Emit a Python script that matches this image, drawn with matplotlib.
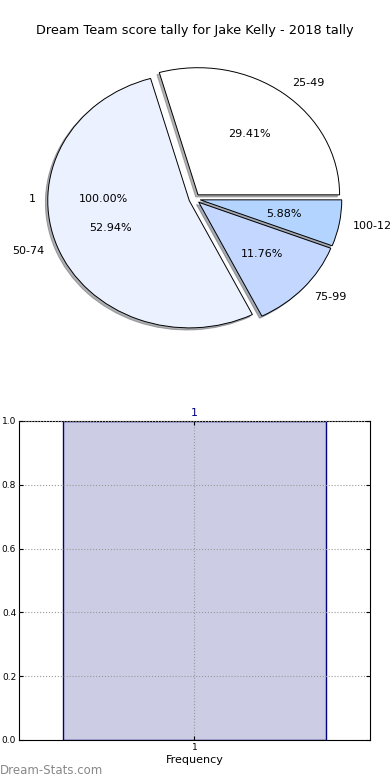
import matplotlib
matplotlib.use("Agg")
import matplotlib.pyplot as plt

# pie data: score ranges and how many weeks fell in each
score_ranges = ["25-49", "50-74", "75-99", "100-124"]
score_counts = [5, 9, 2, 1]
pie_colors = ["#ffffff", "#ebf1ff", "#c4d8ff", "#b3d4ff"]

# the hidden single-slice pie underneath
under_labels = ["1"]
under_counts = [1]

# bar data
bar_labels = ["1"]
bar_values = [1.0]

plt.rcParams["font.family"] = "DejaVu Sans"

fig = plt.figure(figsize=(3.9, 7.8), dpi=100)
fig.text(0.5, 0.961, "Dream Team score tally for Jake Kelly - 2018 tally",
         ha="center", va="center", fontsize=9.3)

# Pie chart (not kept round, like the old matplotlib output)
ax_pie = fig.add_axes([0.136, 0.582, 0.726, 0.326])
w0, t0, a0 = ax_pie.pie(under_counts, labels=under_labels, autopct="%.2f%%",
                        colors=["#ffffff"], wedgeprops=dict(linewidth=0),
                        radius=1.02, pctdistance=0.63, textprops=dict(fontsize=8))
for w in w0:
    w.set_visible(False)

wedges, texts, autotexts = ax_pie.pie(score_counts, labels=score_ranges, autopct="%.2f%%",
                                      colors=pie_colors, explode=[0.04] * len(score_counts),
                                      shadow=dict(ox=-0.012, oy=-0.012, shade=0.6), startangle=0,
                                      wedgeprops=dict(edgecolor="black", linewidth=0.7),
                                      textprops=dict(fontsize=8))
ax_pie.set_aspect("auto")
ax_pie.set_xlim(-1, 1)
ax_pie.set_ylim(-1, 1)
ax_pie.axis("off")

# Bar chart
ax_bar = fig.add_axes([0.0487, 0.0513, 0.9, 0.409])
x = list(range(1, len(bar_values) + 1))
bars = ax_bar.bar(x, bar_values, width=0.752, color="#ccccE5", edgecolor="navy", linewidth=1)
for xi, v, lab in zip(x, bar_values, bar_labels):
    ax_bar.text(xi, v + 0.01, lab, ha="center", va="bottom", color="navy", fontsize=8)
ax_bar.set_xlim(0.5, 1.5)
ax_bar.set_ylim(0, 1.0)
ax_bar.set_xticks(x)
ax_bar.set_xticklabels(bar_labels)
ax_bar.set_yticks([0.0, 0.2, 0.4, 0.6, 0.8, 1.0])
ax_bar.set_yticklabels(["0.0", "0.2", "0.4", "0.6", "0.8", "1.0"])
ax_bar.tick_params(direction="in", labelsize=6.5, top=True, right=True, length=3, pad=2)
ax_bar.grid(True, linestyle=":", color="#999999", linewidth=0.8)
ax_bar.set_axisbelow(False)
ax_bar.set_xlabel("Frequency", fontsize=8, labelpad=2)

fig.text(0.0, 0.012, "Dream-Stats.com", color="#888888", fontsize=8.5,
         ha="left", va="center")

fig.savefig("out.png", dpi=100)
